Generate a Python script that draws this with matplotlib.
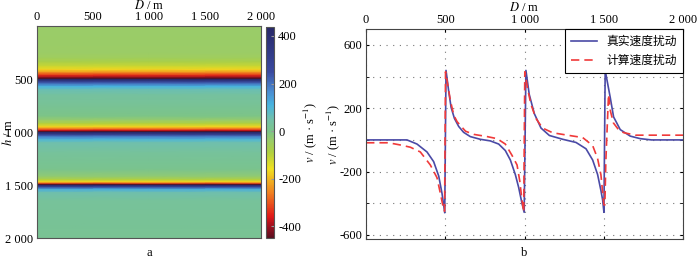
import numpy as np
import matplotlib.pyplot as plt
from matplotlib.colors import LinearSegmentedColormap

plt.rcParams['font.family'] = ['Liberation Serif', 'Noto Sans CJK SC']
plt.rcParams['mathtext.fontset'] = 'stix'
plt.rcParams['font.size'] = 9

# depth profile of the velocity disturbance shown in panel a (h in m, v in m/s)
img_h = [0, 250, 300, 340, 380, 410, 440, 465, 485, 497, 503, 525, 545, 570, 600, 650, 750,
         850, 890, 920, 950, 970, 985, 997, 1003, 1025, 1045, 1070, 1100, 1200, 1350,
         1420, 1450, 1470, 1485, 1497, 1503, 1520, 1540, 1570, 1650, 2000]
img_v = [-40, -42, -55, -80, -120, -170, -250, -340, -410, -450, 437, 300, 200, 110, 60, 35, 20,
         0, -40, -90, -170, -260, -360, -450, 437, 300, 180, 100, 55, 25, 10,
         -30, -90, -170, -300, -450, 437, 250, 120, 55, 25, 15]
img_d = [0, 1000, 2000]

# panel b: true and computed velocity disturbance along D
true_d = [0, 258, 321, 384, 426, 458, 479, 496, 504, 521, 536, 557, 584, 615, 657, 720, 783,
          836, 878, 910, 941, 962, 983, 997, 1008, 1029, 1061, 1103, 1156, 1240, 1324,
          1387, 1429, 1460, 1481, 1492, 1500, 1508, 1540, 1561, 1603, 1666, 1729, 1800, 2000]
true_v = [0, 0, -26, -76, -137, -228, -339, -460, 439, 307, 206, 136, 85, 48, 21, 4, -6,
          -26, -67, -127, -218, -299, -400, -457, 439, 287, 166, 75, 28, 4, -16,
          -56, -127, -218, -319, -380, -457, 439, 267, 145, 65, 24, 8, 0, 0]
calc_d = [0, 132, 174, 216, 279, 342, 405, 447, 473, 489, 495, 501, 515, 532, 553, 574, 627,
          679, 763, 826, 878, 920, 952, 969, 983, 994, 1001, 1018, 1039, 1071, 1113, 1177,
          1282, 1366, 1429, 1460, 1481, 1492, 1500, 1506, 1512, 1529, 1540, 1560, 1592,
          1624, 1700, 2000]
calc_v = [-18, -18, -24, -32, -46, -76, -158, -238, -359, -440, -450, 430, 348, 247, 156, 115,
          55, 35, 21, 8, -26, -97, -158, -258, -378, -455, 430, 327, 227, 136, 75, 45,
          28, 15, -36, -117, -220, -330, -410, -410, -135, 287, 186, 107, 65,
          46, 30, 30]

cmap = LinearSegmentedColormap.from_list('vel', [
    (0.000, '#5a1020'), (0.056, '#a01020'), (0.101, '#e01818'), (0.214, '#f08020'),
    (0.327, '#f0e020'), (0.406, '#b0d040'), (0.462, '#9acc68'), (0.507, '#7cc488'),
    (0.564, '#72c0aa'), (0.631, '#48b4e0'), (0.699, '#4a8ad0'), (0.789, '#3a4aa0'),
    (1.000, '#282868')])

fig = plt.figure(figsize=(7, 2.64), dpi=100)

# ---- panel a ----
ax1 = fig.add_axes([0.053, 0.098, 0.32, 0.803])
V = np.tile(np.array(img_v)[:, None], (1, len(img_d)))
pm = ax1.pcolormesh(img_d, img_h, V, cmap=cmap, vmin=-450, vmax=437, shading='gouraud')
ax1.set_xlim(0, 2000)
ax1.set_ylim(2000, 0)
ax1.xaxis.tick_top()
ax1.xaxis.set_label_position('top')
ax1.set_xticks([0, 500, 1000, 1500, 2000])
ax1.set_xticklabels(['0', '500', '1 000', '1 500', '2 000'])
ax1.set_yticks([500, 1000, 1500, 2000])
ax1.set_yticklabels(['500', '1 000', '1 500', '2 000'])
ax1.tick_params(length=0, pad=2)
ax1.tick_params(axis='y', pad=3)
ax1.set_xlabel('$D$ / m', labelpad=2)
ax1.set_ylabel('$h$ / m', labelpad=-7)
for s in ax1.spines.values():
    s.set_color('#555555')

cax = fig.add_axes([0.380, 0.098, 0.0114, 0.799])
cb = fig.colorbar(pm, cax=cax)
cb.set_ticks([-400, -200, 0, 200, 400])
cb.set_ticklabels(['-400', '-200', '0', '200', '400'])
cb.ax.tick_params(length=2, direction='in', color='#999999', pad=3)
cb.set_label('$v$ / (m · s$^{-1}$)', labelpad=0)
cb.outline.set_edgecolor('#555555')
fig.text(0.213, 0.04, 'a', ha='center', va='center', fontsize=9)

# ---- panel b ----
ax2 = fig.add_axes([0.523, 0.095, 0.453, 0.795])
ax2.plot(true_d, true_v, color='#4a4aa6', lw=1.2, label='真实速度扰动')
ax2.plot(calc_d, calc_v, color='#f03a3a', lw=1.2, ls=(0, (5, 3)), label='计算速度扰动')
ax2.set_xlim(0, 2000)
ax2.set_ylim(-625, 700)
ax2.xaxis.tick_top()
ax2.xaxis.set_label_position('top')
ax2.set_xticks([0, 500, 1000, 1500, 2000])
ax2.set_xticklabels(['0', '500', '1 000', '1 500', '2 000'])
ax2.set_yticks([-600, -200, 200, 600])
ax2.set_yticklabels(['-600', '-200', '200', '600'])
ax2.set_yticks([-400, 0, 400], minor=True)
ax2.tick_params(which='both', direction='in', top=True, bottom=True, left=True, right=True,
                length=2, pad=3)
ax2.tick_params(axis='x', pad=2)
ax2.grid(True, which='both', linestyle=(0, (1, 5)), color='#777777', lw=0.8)
ax2.set_xlabel('$D$ / m', labelpad=2)
ax2.set_ylabel('$v$ / (m · s$^{-1}$)', labelpad=-2)
leg = ax2.legend(loc='upper right', fancybox=False, edgecolor='black', framealpha=1,
                 borderaxespad=0, handlelength=2.2, borderpad=0.5,
                 prop={'family': ['Noto Sans CJK SC'], 'size': 8.5})
leg.get_frame().set_linewidth(0.8)
for s in ax2.spines.values():
    s.set_color('#444444')
fig.text(0.749, 0.04, 'b', ha='center', va='center', fontsize=9)

fig.savefig('out.png', dpi=100)
